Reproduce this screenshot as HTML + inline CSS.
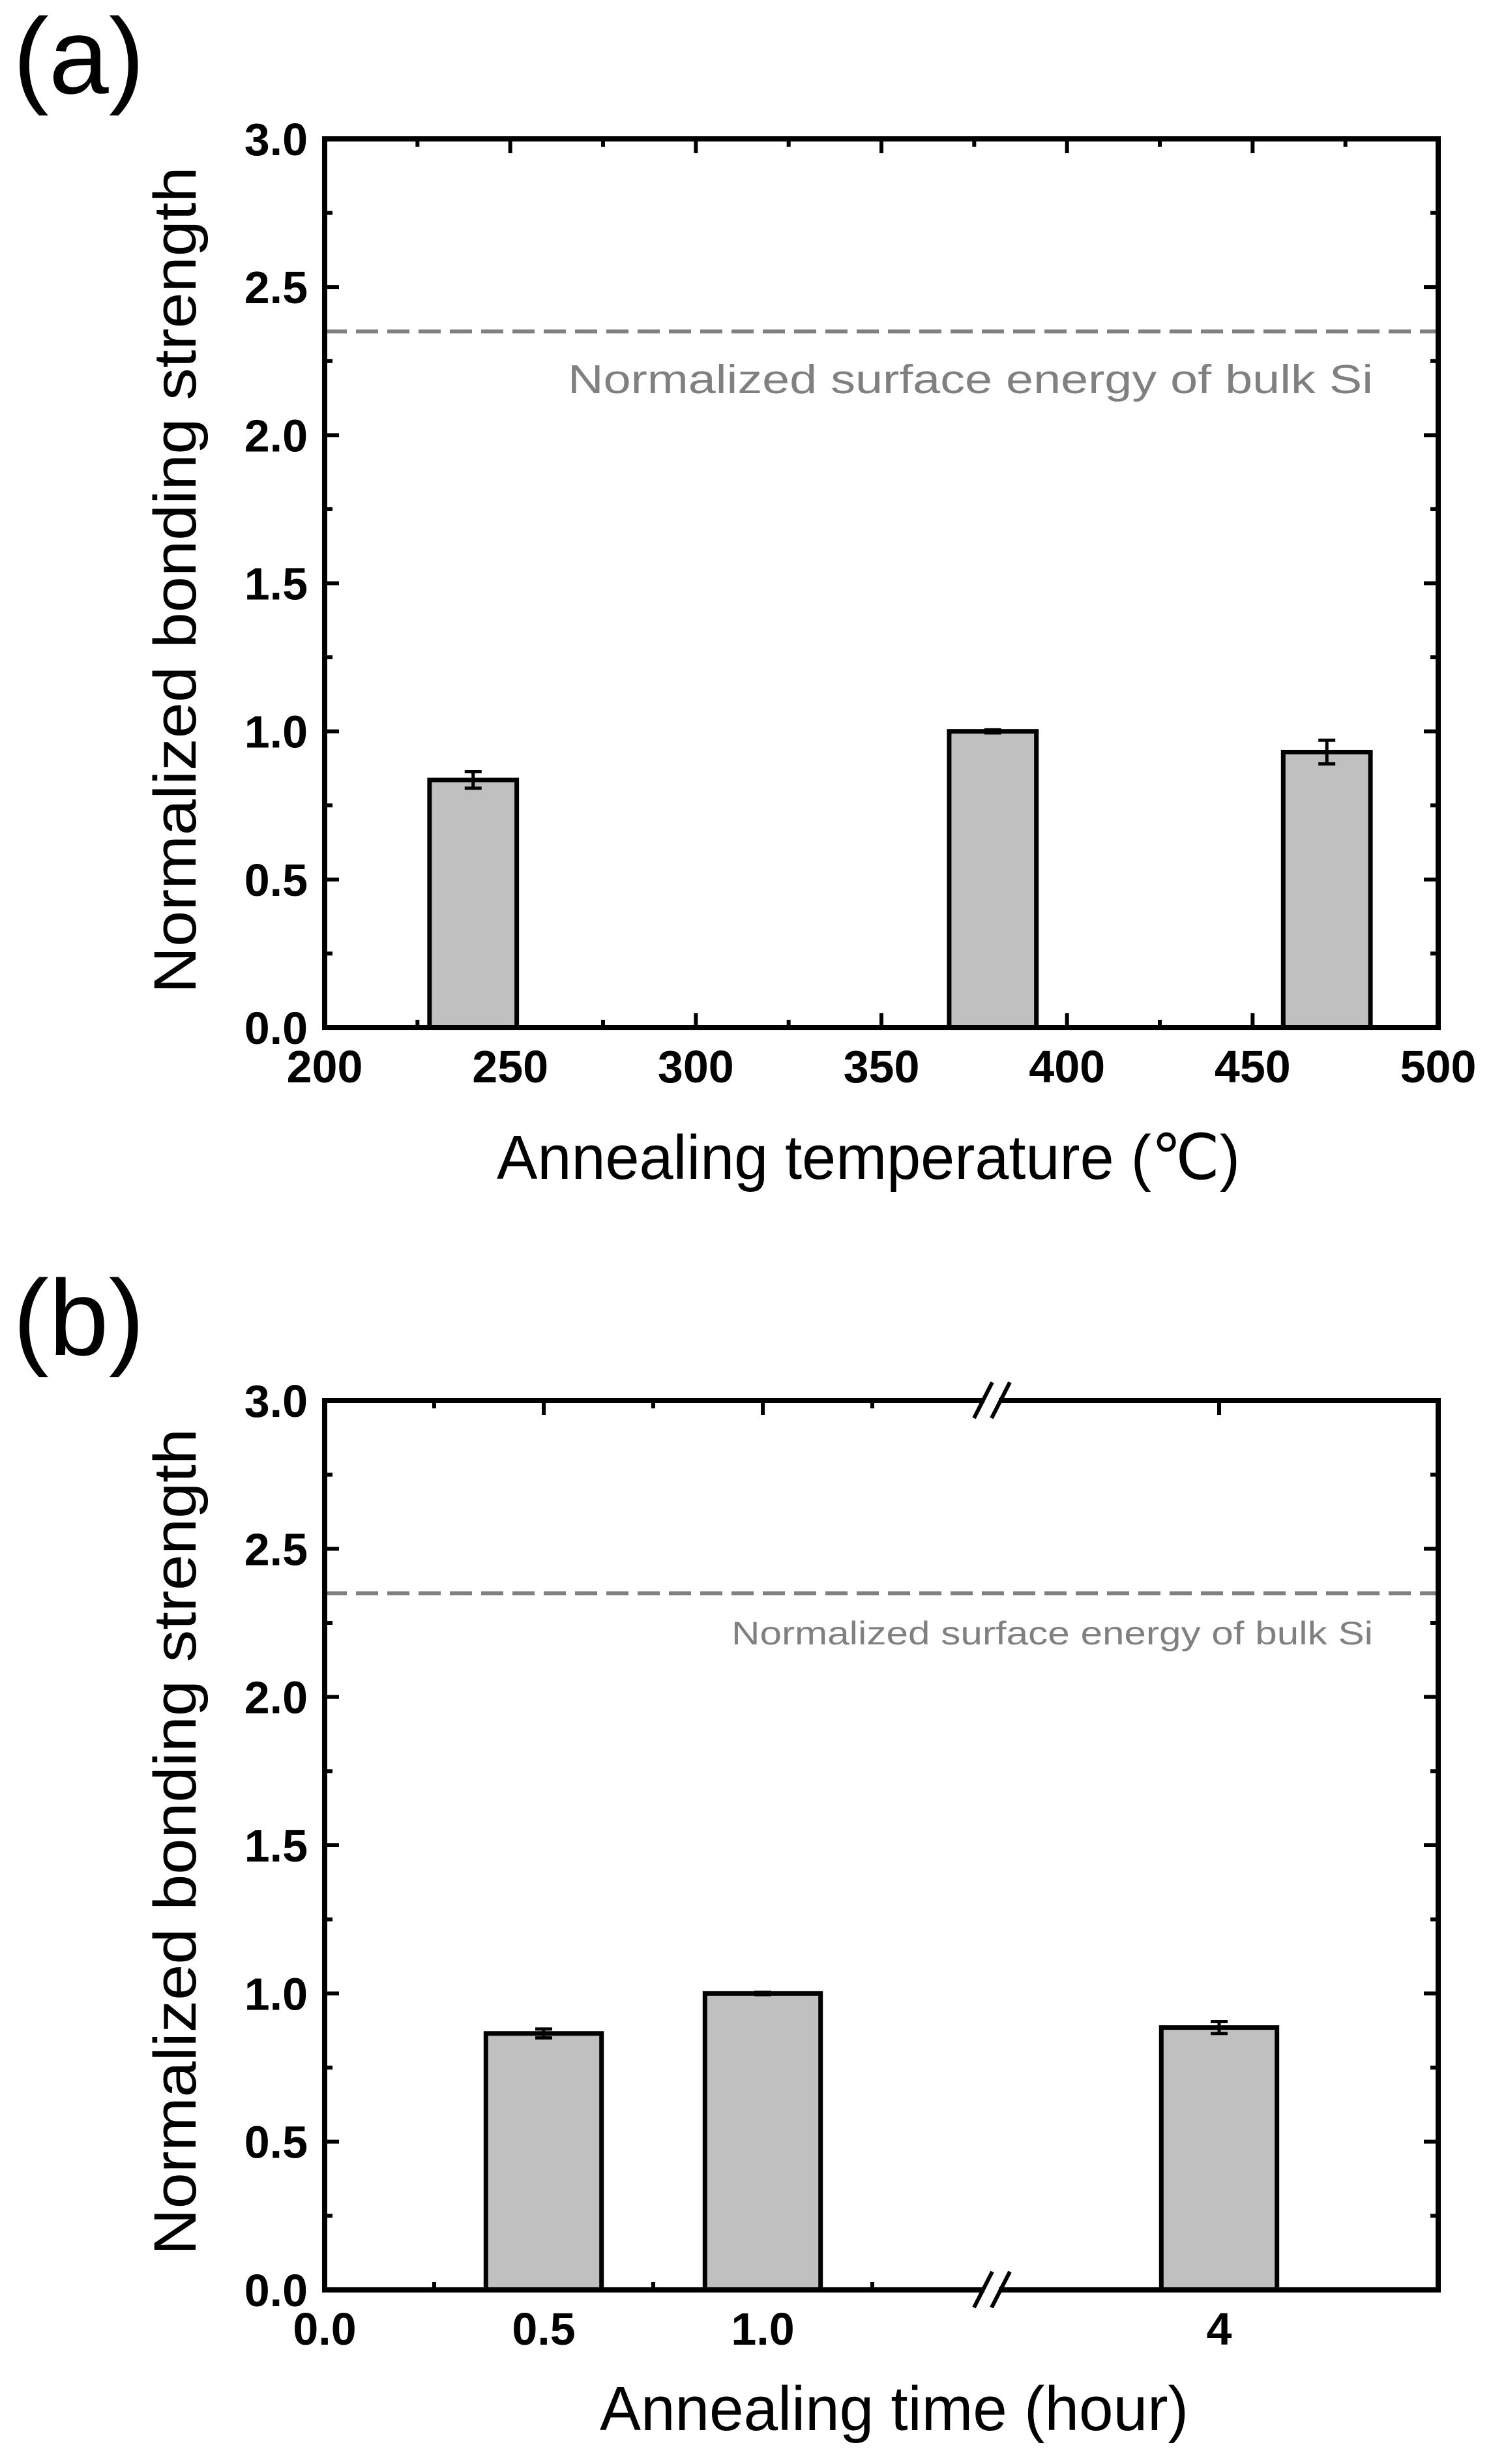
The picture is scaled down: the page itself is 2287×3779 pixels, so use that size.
<!DOCTYPE html>
<html><head><meta charset="utf-8"><style>
html,body{margin:0;padding:0;background:#fff;}
svg{display:block;}
</style></head><body>
<svg id="chart" width="2287" height="3779" viewBox="0 0 2287 3779" xmlns="http://www.w3.org/2000/svg" font-family="'Liberation Sans', Arial, sans-serif">
<rect width="2287" height="3779" fill="#fff"/>
<g id="pa"></g>
<g id="pb"></g>
</svg>
<script>
// Panel (a) data
const aCategories = [240, 380, 470];
const aValues = [0.836, 1.0, 0.93];
const aErrors = [0.028, 0.005, 0.04];
const aXTicks = [200, 250, 300, 350, 400, 450, 500];
const aXTickLabels = ["200", "250", "300", "350", "400", "450", "500"];
const aXMinor = [225, 275, 325, 375, 425, 475];
// Panel (b) data
const bCategories = [0.5, 1.0, 4];
const bValues = [0.865, 1.0, 0.885];
const bErrors = [0.015, 0.004, 0.02];
const bXTicks = [0.0, 0.5, 1.0, 4];
const bXTickLabels = ["0.0", "0.5", "1.0", "4"];
const bXMinor = [0.25, 0.75, 1.25];
// shared
const yTicks = [0, 0.5, 1.0, 1.5, 2.0, 2.5, 3.0];
const yTickLabels = ["0.0", "0.5", "1.0", "1.5", "2.0", "2.5", "3.0"];
const yMinor = [0.25, 0.75, 1.25, 1.75, 2.25, 2.75];
const refLevel = [2.35];

const NS = "http://www.w3.org/2000/svg";
function mk(parent, tag, attrs, text) {
  const e = document.createElementNS(NS, tag);
  for (const k in attrs) e.setAttribute(k, attrs[k]);
  if (text !== undefined) e.textContent = text;
  parent.appendChild(e);
  return e;
}
const L = 498, R = 2206;

function drawPanel(g, top, bot, xScale, cats, vals, errs, xt, xtl, xm, barW, opts) {
  const y = v => bot - (v / 3) * (bot - top);
  const dl = mk(g, "line", {x1: L, x2: R, y1: y(refLevel[0]), y2: y(refLevel[0]), stroke: "#808080", "stroke-width": 6, "stroke-dasharray": "34 14"});
  
  
  const rt = mk(g, "text", {x: opts.refX, y: opts.refY, "font-size": opts.refFs, fill: "#808080", textLength: opts.refLen, lengthAdjust: "spacingAndGlyphs"}, "Normalized surface energy of bulk Si");
  
  
  const tk = mk(g, "g", {stroke: "#000", "stroke-width": 6});
  
  
  yTicks.forEach(v => {
    mk(tk, "line", {x1: L, x2: L + 22, y1: y(v), y2: y(v)});
    mk(tk, "line", {x1: R, x2: R - 22, y1: y(v), y2: y(v)});
  });
  yMinor.forEach(v => {
    mk(tk, "line", {x1: L, x2: L + 12, y1: y(v), y2: y(v)});
    mk(tk, "line", {x1: R, x2: R - 12, y1: y(v), y2: y(v)});
  });
  xt.forEach(v => {
    const x = xScale(v);
    mk(tk, "line", {x1: x, x2: x, y1: bot, y2: bot - 22});
    mk(tk, "line", {x1: x, x2: x, y1: top, y2: top + 22});
  });
  xm.forEach(v => {
    const x = xScale(v);
    mk(tk, "line", {x1: x, x2: x, y1: bot, y2: bot - 12});
    mk(tk, "line", {x1: x, x2: x, y1: top, y2: top + 12});
  });
  cats.forEach((c, i) => {
    const cx = xScale(c);
    const b = mk(g, "rect", {x: cx - barW / 2, y: y(vals[i]), width: barW, height: bot - y(vals[i]), fill: "#c0c0c0", stroke: "#000", "stroke-width": 7});
    
    
    const eg = mk(g, "g", {stroke: "#000", "stroke-width": 5});
    
    
    const y1 = y(vals[i] + errs[i]), y2 = y(vals[i] - errs[i]);
    mk(eg, "line", {x1: cx, x2: cx, y1: y1, y2: y2});
    mk(eg, "line", {x1: cx - 13, x2: cx + 13, y1: y1, y2: y1});
    mk(eg, "line", {x1: cx - 13, x2: cx + 13, y1: y2, y2: y2});
  });
  const fr = mk(g, "rect", {x: L, y: top, width: R - L, height: bot - top, fill: "none", stroke: "#000", "stroke-width": 8});
  
  
  const yl = mk(g, "g", {"font-size": 70, "font-weight": "bold", "text-anchor": "end", fill: "#000"});
  
  
  yTicks.forEach((v, i) => mk(yl, "text", {x: 472, y: y(v) + 25}, yTickLabels[i]));
  const xl = mk(g, "g", {"font-size": 70, "font-weight": "bold", "text-anchor": "middle", fill: "#000"});
  
  
  xt.forEach((v, i) => mk(xl, "text", {x: xScale(v), y: bot + 84}, xtl[i]));
  const cy = (top + bot) / 2;
  const yt = mk(g, "text", {x: 0, y: 0, transform: "translate(300," + (cy - 5) + ") rotate(-90)", "font-size": 92, "text-anchor": "middle", textLength: 1268, lengthAdjust: "spacingAndGlyphs"}, "Normalized bonding strength");
  
  
  const xtT = mk(g, "text", {x: opts.xtX, y: opts.xtY, "font-size": 96, textLength: opts.xtLen, lengthAdjust: "spacingAndGlyphs"}, opts.xTitle);
  
  
  const pl = mk(g, "text", {x: 20, y: opts.labY, "font-size": 165}, opts.label);
  
  
}

const axA = v => L + (v - 200) / 300 * (R - L);
drawPanel(document.getElementById("pa"), 213, 1576, axA, aCategories, aValues, aErrors,
  aXTicks, aXTickLabels, aXMinor, axA(23.5) - axA(0),
  {refX: 871, refY: 603, refFs: 62, refLen: 1235, xtX: 762, xtY: 1808, xtLen: 1140, xTitle: "Annealing temperature (℃)", label: "(a)", labY: 143});

const BRK = 1.52, BRKPX = 1518, PX1 = 672, PX2 = (1870 - 1518) / (4 - 1.52);
const axB = v => v <= BRK ? L + v * PX1 : BRKPX + (v - BRK) * PX2;
const gb = document.getElementById("pb");
drawPanel(gb, 2148, 3512, axB, bCategories, bValues, bErrors,
  bXTicks, bXTickLabels, bXMinor, 0.264 * PX1,
  {refX: 1122, refY: 2522, refFs: 50, refLen: 984, xtX: 920, xtY: 3727, xtLen: 903, xTitle: "Annealing time (hour)", label: "(b)", labY: 2078});
[2148, 3512].forEach(yy => {
  const bg = mk(gb, "g", {});
  
  
  mk(bg, "rect", {x: 1510, y: yy - 6, width: 22, height: 12, fill: "#fff"});
  mk(bg, "line", {x1: 1494, y1: yy + 27, x2: 1522, y2: yy - 28, stroke: "#000", "stroke-width": 6});
  mk(bg, "line", {x1: 1521, y1: yy + 27, x2: 1549, y2: yy - 28, stroke: "#000", "stroke-width": 6});
});
</script>
</body></html>
